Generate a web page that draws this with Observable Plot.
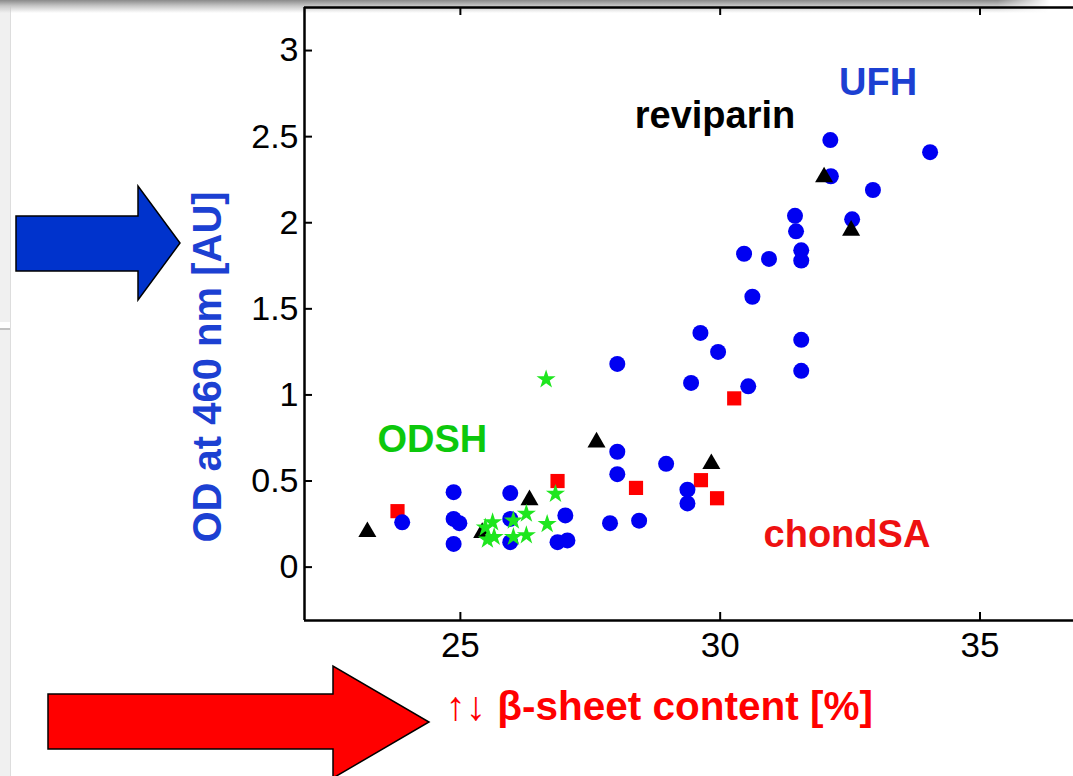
<!DOCTYPE html>
<html>
<head>
<meta charset="utf-8">
<script src="https://cdn.jsdelivr.net/npm/d3@7"></script>
<script src="https://cdn.jsdelivr.net/npm/@observablehq/plot@0.6"></script>
<style>
  html, body { margin: 0; padding: 0; background: #fff; overflow: hidden; }
  #page { position: relative; width: 1073px; height: 776px; }
  .rail { position: absolute; left: 0; top: 0; width: 10px; height: 776px; background: #f0f0f0; border-right: 1px solid #dddddd; }
  .notch { position: absolute; left: 0; top: 322px; width: 10px; height: 6px; background: #fff; border-bottom: 2px solid #c2c2c2; }
  .shade { position: absolute; left: 0; top: 0; width: 1050px; height: 13px;
           background: linear-gradient(#8a8a8a, #c6c6c6 45%, rgba(255,255,255,0));
           -webkit-mask-image: linear-gradient(to right, #000 95%, transparent);
           mask-image: linear-gradient(to right, #000 95%, transparent); }
  #chart { position: absolute; left: 0; top: 0; }
</style>
</head>
<body>
<div id="page">
  <div class="rail"></div>
  <div class="notch"></div>
  <div class="shade"></div>
  <div id="chart"></div>
</div>
<script>
// Axis ranges and ticks
const xDomain = [22, 36.8];
const yDomain = [-0.31, 3.25];
const xTicks = [25, 30, 35];
const yTicks = [0, 0.5, 1, 1.5, 2, 2.5, 3];

// UFH (blue circles)
const ufhX = [23.88, 24.87, 24.87, 24.98, 24.87, 25.96, 25.96, 25.96, 27.02, 26.87, 27.06, 27.88, 28.44,
              28.02, 28.02, 28.02, 28.96, 29.37, 29.37, 29.44, 29.62, 29.96, 30.54, 30.46, 30.62, 30.94,
              31.44, 31.46, 31.56, 31.56, 31.56, 31.56, 32.12, 32.13, 32.94, 32.54, 34.04];
const ufhY = [0.26, 0.435, 0.28, 0.255, 0.135, 0.43, 0.28, 0.145, 0.30, 0.145, 0.155, 0.255, 0.27,
              1.18, 0.67, 0.54, 0.60, 0.45, 0.37, 1.07, 1.36, 1.25, 1.05, 1.82, 1.57, 1.79,
              2.04, 1.95, 1.84, 1.78, 1.32, 1.14, 2.48, 2.27, 2.19, 2.02, 2.41];

// reviparin (black triangles)
const revX = [23.21, 25.42, 26.33, 27.62, 29.83, 32.0, 32.52];
const revY = [0.205, 0.20, 0.39, 0.725, 0.60, 2.265, 1.955];

// chondSA (red squares)
const chsX = [23.79, 26.87, 28.38, 29.63, 29.94, 30.27];
const chsY = [0.325, 0.50, 0.46, 0.505, 0.40, 0.98];

// ODSH (green stars)
const odsX = [25.62, 25.48, 25.52, 25.65, 26.02, 26.27, 26.02, 26.27, 26.67, 26.83, 26.65];
const odsY = [0.26, 0.23, 0.16, 0.175, 0.27, 0.31, 0.175, 0.185, 0.25, 0.425, 1.09];

// Series name labels inside the axes
const labelText = ["UFH", "reviparin", "ODSH", "chondSA"];
const labelX = [33.04, 29.9, 24.46, 32.44];
const labelY = [2.81, 2.62, 0.737, 0.186];
const labelColor = ["#1c40d2", "#000000", "#0cc80c", "#ee1111"];

const yTitle = "OD at 460 nm [AU]";
const xTitle = "\u2191\u2193 \u03b2-sheet content [%]";

const pts = (xs, ys) => xs.map((x, i) => ({x, y: ys[i]}));
const labels = labelText.map((t, i) => ({t, x: labelX[i], y: labelY[i], c: labelColor[i]}));

const W = 1073, H = 776;
const mL = 304, mR = 0, mT = 7, mB = 156;
const innerW = W - mL - mR, innerH = H - mT - mB;
const font = "'Liberation Sans', Arial, Helvetica, sans-serif";

const chart = Plot.plot({
  width: W, height: H,
  marginLeft: mL, marginRight: mR, marginTop: mT, marginBottom: mB,
  style: {background: "transparent", fontFamily: font, color: "#000", overflow: "visible"},
  x: {domain: xDomain},
  y: {domain: yDomain},
  marks: [
    // tick labels
    Plot.axisX(xTicks, {anchor: "bottom", tickSize: 0, tickPadding: 12, fontSize: 35, label: null,
                        tickFormat: d => String(d)}),
    Plot.axisY(yTicks, {anchor: "left", tickSize: 0, tickPadding: 6, fontSize: 34, label: null,
                        tickFormat: d => String(d)}),
    // inward ticks (bottom, top, left)
    Plot.tickX(xTicks, {x: d => d, insetTop: innerH - 8, stroke: "#000", strokeWidth: 2}),
    Plot.tickX(xTicks, {x: d => d, insetBottom: innerH - 8, stroke: "#000", strokeWidth: 2}),
    Plot.tickY(yTicks, {y: d => d, insetRight: innerW - 8, stroke: "#000", strokeWidth: 2}),
    // axes box (left, bottom, top)
    Plot.ruleX([xDomain[0]], {stroke: "#000", strokeWidth: 2.5}),
    Plot.ruleY(yDomain, {stroke: "#000", strokeWidth: 2.5}),
    // data
    Plot.dot(pts(chsX, chsY), {x: "x", y: "y", symbol: "square", r: 8, fill: "#ff0000"}),
    Plot.dot(pts(ufhX, ufhY), {x: "x", y: "y", symbol: "circle", r: 8, fill: "#0000f2"}),
    Plot.dot(pts(revX, revY), {x: "x", y: "y", symbol: "triangle", r: 6.7, fill: "#000"}),
    Plot.dot(pts(odsX, odsY), {x: "x", y: "y", symbol: "star", r: 6, fill: "#1ee61e"}),
    // series names
    Plot.text(labels, {x: "x", y: "y", text: "t", fill: "c", fontSize: 38, fontWeight: "bold",
                       textAnchor: "middle", lineAnchor: "middle"}),
    // axis titles
    Plot.text([yTitle], {frameAnchor: "left", rotate: -90, dx: -96, dy: 53, fontSize: 40,
                         fontWeight: "bold", fill: "#1c40d2", textAnchor: "middle", lineAnchor: "middle"}),
    Plot.text([xTitle], {frameAnchor: "bottom", dx: -(mL + innerW / 2) + 445, dy: 87, fontSize: 40.5,
                         fontWeight: "bold", fill: "#ff0000", textAnchor: "start", lineAnchor: "middle"})
  ]
});

// Block arrows pointing at the two axis titles
const arrows = [
  {fill: "#0033cc", pts: [[16, 216], [138, 216], [138, 186], [180, 243], [138, 300], [138, 271], [16, 271]]},
  {fill: "#ff0000", pts: [[48, 694], [333, 694], [333, 666], [429, 722], [333, 778], [333, 749], [48, 749]]}
];
const svg = d3.select(chart);
svg.selectAll("polygon.arrow").data(arrows).join("polygon")
  .attr("class", "arrow")
  .attr("points", d => d.pts.map(p => p.join(",")).join(" "))
  .attr("fill", d => d.fill)
  .attr("stroke", "#000")
  .attr("stroke-width", 1.5)
  .attr("stroke-linejoin", "miter");

document.getElementById("chart").appendChild(chart);
</script>
</body>
</html>
